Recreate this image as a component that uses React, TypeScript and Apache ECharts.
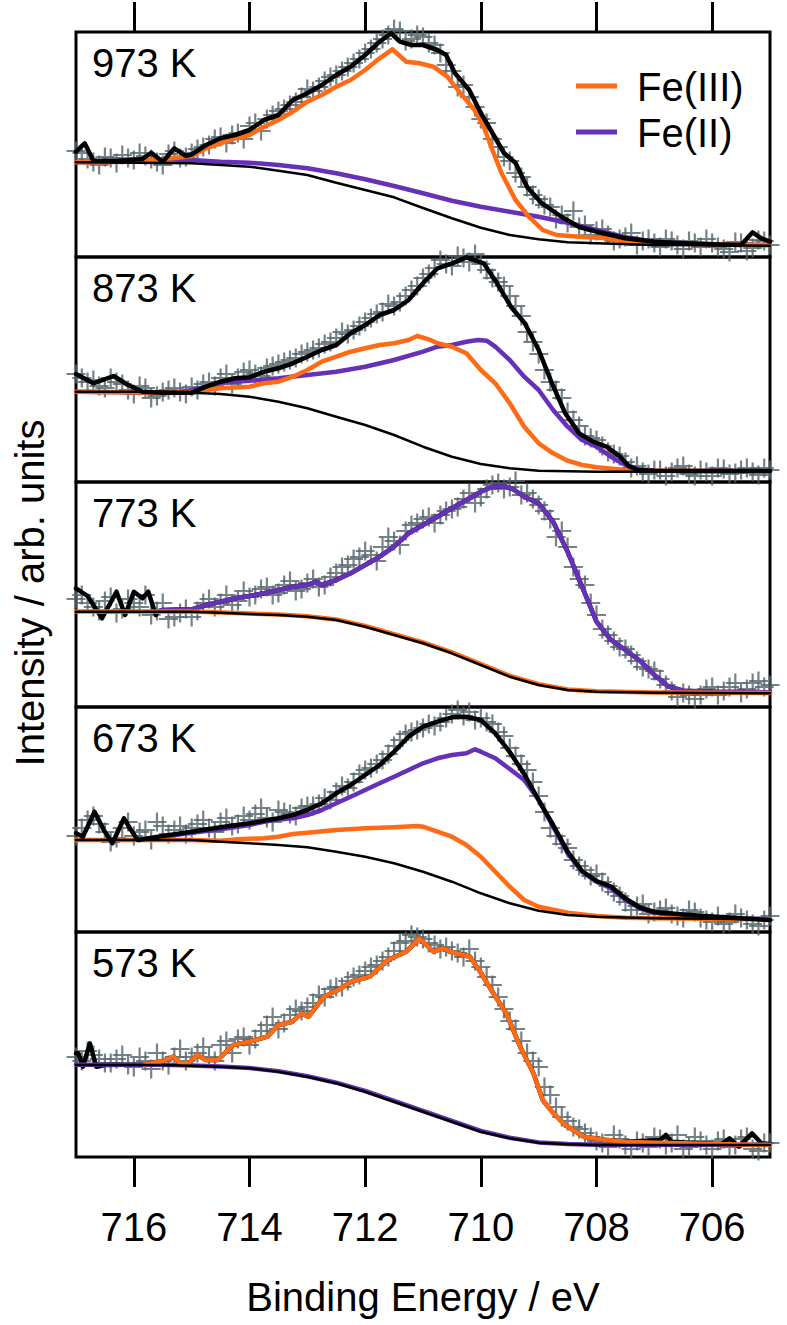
import React, { useEffect, useRef } from "react";
import * as echarts from "echarts";

// ---------------- data ----------------
const X_MIN = 705;
const X_MAX = 717;
const X_TICKS = [706, 708, 710, 712, 714, 716];
const Y_MAX = 225;
const X_TITLE = "Binding Energy / eV";
const Y_TITLE = "Intensity / arb. units";
const LEGEND_LABELS = ["Fe(III)", "Fe(II)"];

const CROSS_EV = [
  717.0, 716.8, 716.6, 716.4, 716.2, 716.0, 715.8, 715.6, 715.4, 715.2, 715.0,
  714.8, 714.6, 714.4, 714.2, 714.0, 713.8, 713.6, 713.4, 713.2, 713.0,
  712.8, 712.6, 712.4, 712.2, 712.0, 711.8, 711.6, 711.4, 711.2, 711.0,
  710.8, 710.6, 710.4, 710.2, 710.0, 709.8, 709.6, 709.4, 709.2, 709.0,
  708.8, 708.6, 708.4, 708.2, 708.0, 707.8, 707.6, 707.4, 707.2, 707.0,
  706.8, 706.6, 706.4, 706.2, 706.0, 705.8, 705.6, 705.4, 705.2, 705.0,
];
const CROSS_EV2 = [
  716.9, 716.7, 716.5, 716.3, 716.1, 715.9, 715.7, 715.5, 715.3, 715.1,
  714.9, 714.7, 714.5, 714.3, 714.1, 713.9, 713.7, 713.5, 713.3, 713.1,
  712.9, 712.7, 712.5, 712.3, 712.1, 711.9, 711.7, 711.5, 711.3, 711.1,
  710.9, 710.7, 710.5, 710.3, 710.1, 709.9, 709.7, 709.5, 709.3, 709.1,
  708.9, 708.7, 708.5, 708.3, 708.1, 707.9, 707.7, 707.5, 707.3, 707.1,
  706.9, 706.7, 706.5, 706.3, 706.1, 705.9, 705.7, 705.5, 705.3, 705.1,
];

// ---- 973 K ----
const P973_DATA = [106, 98, 92, 99, 102, 97, 101, 95, 103, 99, 104, 110, 118, 114, 124, 131, 126, 142, 148, 155, 168, 170, 180, 186, 194, 204, 214, 222, 226, 218, 220, 212, 192, 170, 160, 138, 118, 100, 84, 70, 58, 50, 42, 46, 32, 26, 22, 18, 24, 16, 14, 18, 12, 16, 10, 14, 8, 15, 6, 17, 12];
const P973_DATA2 = [104, 95, 100, 94, 99, 104, 98, 92, 106, 100, 108, 112, 120, 122, 118, 134, 138, 146, 152, 160, 166, 176, 182, 190, 198, 208, 218, 228, 216, 222, 214, 204, 186, 172, 150, 134, 110, 96, 80, 62, 52, 38, 34, 30, 22, 28, 16, 20, 12, 18, 10, 16, 8, 14, 18, 10, 5, 14, 9, 16];
const P973_BG = [[717, 94.7], [716, 94.3], [715, 93.7], [714.5, 92], [714, 90.3], [713.5, 86.3], [713, 82], [712.5, 74.3], [712, 67], [711.5, 59.7], [711, 49], [710.5, 38.7], [710, 29.3], [709.5, 22], [709, 17.7], [708.5, 14.7], [708, 13.7], [707, 12], [706, 11.7], [705, 11.3]];
const P973_TOTAL = [[717, 105.3], [716.85, 113.7], [716.7, 96.3], [716.3, 96], [715.85, 98], [715.7, 104.3], [715.5, 95.3], [715.3, 108.7], [715.1, 101], [715, 102.7], [714.75, 112], [714.5, 118.7], [714.25, 122], [714, 127], [713.75, 137], [713.5, 142], [713.25, 157], [713, 163.7], [712.75, 172], [712.5, 182], [712.25, 190.3], [712, 202], [711.75, 215.3], [711.55, 223.7], [711.4, 215.3], [711.2, 212], [711, 212], [710.75, 207], [710.6, 202], [710.45, 184], [710.2, 167], [710, 144], [709.8, 124], [709.6, 104], [709.4, 94], [709.2, 70], [708.95, 54], [708.6, 40], [708.3, 30], [708, 25.3], [707.5, 18.7], [707, 15.3], [706.5, 13.7], [706, 12.7], [705.5, 12], [705.3, 24.7], [705.15, 18.7], [705, 15.3]];
const P973_FE3 = [[717, 94.7], [716.5, 94.7], [716, 95.5], [715.5, 97.7], [715, 101], [714.75, 108.7], [714.5, 113.7], [714.25, 118.7], [714, 122], [713.75, 130.3], [713.5, 137], [713.25, 145.3], [713, 155.3], [712.75, 162], [712.5, 170.3], [712.25, 177], [712, 187], [711.75, 198.7], [711.53, 207.7], [711.29, 195.3], [711.06, 193.7], [710.82, 190.3], [710.58, 180.3], [710.35, 163.7], [710.11, 147], [709.95, 130.3], [709.8, 107], [709.64, 83.7], [709.4, 57], [709.17, 40.3], [708.93, 27], [708.69, 22], [708.3, 20.3], [707.83, 18.7], [707.5, 15.3], [707, 13.7], [706, 12.7], [705, 12]];
const P973_FE2 = [[717, 94.7], [716.3, 95.3], [715.5, 97.7], [715, 97], [714.5, 95.3], [714, 94.3], [713.5, 92], [713, 88.7], [712.5, 83.7], [712, 77.7], [711.5, 71], [711, 63.7], [710.5, 56.3], [710, 50.3], [709.5, 45.3], [709, 40.3], [708.5, 34.3], [708, 27], [707.5, 19.7], [707, 15.3], [706.5, 13.7], [706, 12.7], [705, 12]];

// ---- 873 K ----
const P873_DATA = [108, 100, 96, 104, 98, 88, 94, 86, 92, 90, 95, 98, 96, 108, 104, 112, 106, 116, 120, 124, 130, 134, 140, 150, 152, 160, 168, 178, 180, 192, 204, 214, 218, 226, 220, 218, 204, 196, 176, 150, 128, 100, 84, 62, 46, 42, 30, 26, 14, 10, 12, 6, 14, 8, 12, 6, 13, 9, 14, 7, 12];
const P873_DATA2 = [104, 102, 94, 100, 92, 96, 84, 90, 94, 88, 92, 100, 104, 98, 110, 108, 114, 118, 122, 128, 132, 138, 144, 148, 156, 164, 170, 176, 186, 196, 208, 222, 216, 224, 228, 212, 200, 186, 166, 140, 112, 92, 70, 56, 44, 36, 28, 20, 16, 8, 12, 10, 16, 6, 10, 14, 8, 12, 10, 14];
const P873_BG = [[717, 90.3], [715.5, 90.3], [715, 89.3], [714.5, 88], [714, 85.3], [713.5, 80.3], [713, 73.7], [712.5, 65.3], [712, 57], [711.5, 47], [711, 35.3], [710.5, 25.3], [710, 18], [709.5, 13.7], [709, 11.3], [708, 10.3], [705, 10.3]];
const P873_TOTAL = [[717, 108], [716.7, 98.7], [716.35, 106], [716.1, 97], [715.85, 90.3], [715.5, 89.3], [715, 89.3], [714.75, 95.3], [714.5, 100.3], [714.25, 103.7], [714, 104.7], [713.75, 110.3], [713.5, 113.7], [713.25, 118.7], [713, 125.3], [712.75, 132], [712.5, 137], [712.25, 148.7], [712, 157], [711.75, 167], [711.5, 172], [711.25, 182], [711, 198.7], [710.75, 213.7], [710.5, 218.7], [710.25, 224.7], [709.95, 218.7], [709.72, 198.7], [709.48, 175.3], [709.24, 158.7], [709, 132], [708.77, 98.7], [708.54, 68.7], [708.3, 48.7], [708.06, 40.3], [707.83, 35.3], [707.59, 25.3], [707.43, 15.3], [707.28, 12], [707, 11.3], [706, 11], [705, 11]];
const P873_FE3 = [[717, 90.3], [715.5, 89.3], [715, 90.3], [714.75, 92], [714.5, 93.7], [714, 95.3], [713.75, 98.7], [713.5, 100.3], [713.25, 105.3], [713, 112], [712.75, 120.3], [712.5, 125.3], [712.25, 130.3], [712, 133.7], [711.75, 137], [711.5, 138.7], [711.25, 142], [711.1, 146], [710.9, 142.7], [710.75, 138.7], [710.5, 135.3], [710.25, 128.7], [710, 112], [709.75, 98.7], [709.5, 78.7], [709.25, 55.3], [709, 38.7], [708.75, 28.7], [708.5, 21.3], [708.25, 17], [708, 14.7], [707.5, 12], [707, 11.3], [705, 10.7]];
const P873_FE2 = [[717, 90.3], [715.3, 89.3], [715, 92], [714.75, 95.3], [714.5, 99.3], [714, 101.3], [713.5, 103.7], [713, 107], [712.5, 110.3], [712, 115.3], [711.5, 122], [711, 130.3], [710.75, 135.3], [710.5, 137], [710.25, 140.3], [710.05, 142], [709.9, 141.3], [709.75, 135.3], [709.5, 122], [709.25, 105.3], [709, 92], [708.75, 72], [708.5, 55.3], [708.25, 42], [708, 35.3], [707.75, 25.3], [707.5, 17], [707.25, 12.7], [707, 11.3], [705, 10.7]];

// ---- 773 K ----
const P773_DATA = [108, 104, 96, 110, 98, 104, 112, 96, 88, 94, 90, 104, 100, 112, 106, 110, 118, 112, 122, 116, 124, 120, 130, 140, 148, 156, 146, 170, 162, 182, 188, 184, 196, 200, 214, 210, 222, 218, 226, 214, 202, 188, 176, 140, 122, 92, 72, 60, 52, 40, 36, 22, 10, 12, 12, 20, 16, 24, 18, 26, 22];
const P773_DATA2 = [112, 100, 106, 94, 108, 100, 92, 104, 90, 98, 96, 108, 104, 102, 116, 112, 120, 114, 126, 118, 128, 122, 134, 142, 150, 152, 160, 166, 176, 184, 190, 192, 198, 208, 204, 218, 224, 220, 212, 208, 196, 170, 160, 128, 104, 78, 66, 58, 46, 38, 28, 16, 14, 8, 18, 12, 20, 14, 24, 20];
const P773_BG = [[717, 95.3], [715, 95.3], [714.5, 94.3], [714, 93], [713.5, 92], [713, 90.3], [712.5, 87], [712, 80.3], [711.5, 72], [711, 63.7], [710.5, 53.7], [710, 42], [709.5, 30.3], [709, 22], [708.5, 17], [708, 15.3], [707, 14.3], [705, 13.7]];
const P773_FE3 = [[717, 95.6], [715, 95.6], [714.5, 94.6], [714, 93.4], [713.5, 92.4], [713, 90.8], [712.5, 87.6], [712, 81], [711.5, 72.8], [711, 64.5], [710.5, 54.6], [710, 43], [709.5, 31.2], [709, 22.8], [708.5, 17.6], [708, 15.8], [707, 14.6], [705, 14]];
const P773_FE2 = [[715.6, 95.3], [715.5, 97], [715, 97.7], [714.75, 102], [714.5, 105.3], [714.25, 108.7], [714, 111], [713.75, 113.7], [713.5, 117], [713.25, 120.3], [713, 122], [712.85, 125.3], [712.75, 122], [712.5, 127], [712.25, 133.7], [712, 142], [711.75, 150.3], [711.5, 160.3], [711.25, 173.7], [711, 182], [710.75, 190.3], [710.5, 198.7], [710.25, 207], [710, 215.3], [709.8, 220.3], [709.6, 221], [709.45, 218], [709.25, 210.3], [709, 203.7], [708.75, 185.3], [708.5, 155.3], [708.25, 120.3], [708, 85.3], [707.75, 67], [707.5, 57], [707.25, 46.3], [707, 32], [706.75, 20.3], [706.5, 16.3], [706, 15.3], [705, 14.7]];
const P773_TOTAL_LEFT = [[717, 118.7], [716.8, 111], [716.55, 88.7], [716.3, 115.3], [716.15, 92], [716, 115.3], [715.85, 108.7], [715.75, 115.3], [715.62, 92]];

// ---- 673 K ----
const P673_DATA = [96, 112, 108, 90, 104, 96, 102, 110, 98, 106, 104, 112, 100, 114, 108, 112, 124, 110, 120, 116, 126, 128, 132, 146, 150, 162, 168, 178, 192, 200, 204, 206, 214, 222, 220, 214, 208, 196, 176, 162, 136, 104, 88, 72, 62, 58, 46, 36, 22, 28, 20, 24, 16, 22, 14, 10, 8, 18, 12, 6, 16];
const P673_DATA2 = [104, 116, 100, 94, 110, 100, 92, 106, 102, 98, 108, 104, 110, 106, 116, 118, 114, 122, 118, 124, 126, 134, 140, 144, 158, 164, 172, 186, 198, 202, 208, 210, 218, 216, 212, 210, 200, 184, 168, 150, 120, 96, 84, 66, 56, 50, 40, 30, 26, 18, 22, 18, 14, 20, 12, 16, 10, 14, 8, 12];
const P673_BG = [[717, 92], [715, 92], [714.5, 90.3], [714, 88.7], [713.5, 87], [713, 84.7], [712.5, 80.3], [712, 75.3], [711.5, 68.7], [711, 60.3], [710.5, 50.3], [710, 38.7], [709.5, 28.7], [709, 21.3], [708.5, 17], [708, 15.3], [707, 13.7], [705, 12.7]];
const P673_TOTAL = [[717, 98.7], [716.88, 95.3], [716.68, 120.3], [716.52, 102], [716.37, 88.7], [716.17, 113.7], [716.05, 102], [715.93, 92], [715.5, 96], [715, 100.3], [714.5, 104.7], [714, 108.7], [713.5, 113.7], [713.25, 117], [713, 122], [712.75, 128.7], [712.5, 138.7], [712.25, 147], [712, 157], [711.75, 167], [711.5, 180.3], [711.25, 195.3], [711, 205.3], [710.75, 210.3], [710.5, 214.7], [710.25, 215.3], [710, 212], [709.75, 198.7], [709.5, 180], [709.25, 158], [709, 132], [708.75, 107], [708.5, 80.5], [708.25, 61], [708, 51], [707.75, 45.5], [707.5, 33.5], [707.25, 24.5], [707, 20], [706.5, 17.5], [706, 15.5], [705.5, 13.7], [705, 12]];
const P673_FE3 = [[717, 92], [715, 92], [714.5, 91.3], [714.2, 92.7], [713.75, 93.7], [713.5, 95.3], [713.25, 98], [713, 99.3], [712.5, 102], [712, 103.7], [711.5, 104.7], [711.1, 106], [711, 105.3], [710.75, 100.3], [710.5, 95.3], [710.25, 87], [710, 75.3], [709.75, 60.3], [709.5, 45.3], [709.25, 32], [709, 25.3], [708.5, 19.3], [708, 16], [707.5, 14.3], [707, 13.7], [705, 12.7]];
const P673_FE2 = [[715.9, 92], [715.5, 95.3], [715, 99.3], [714.5, 102.7], [714, 107], [713.75, 110.3], [713.5, 112.7], [713.25, 113.7], [713, 117], [712.75, 122], [712.5, 128.7], [712.25, 135.3], [712, 142], [711.75, 148.7], [711.5, 155.3], [711.25, 162], [711, 168.7], [710.75, 173.7], [710.5, 177], [710.25, 178.7], [710.1, 182.7], [710, 180.3], [709.75, 173.7], [709.5, 163], [709.25, 152], [709, 132], [708.75, 105.3], [708.5, 78.7], [708.25, 60.3], [708, 50.3], [707.75, 43.7], [707.5, 32], [707.25, 23.7], [707, 19.3], [706.5, 16], [706, 14.7], [705, 12.7]];

// ---- 573 K ----
const P573_DATA = [100, 106, 98, 94, 102, 90, 96, 104, 92, 108, 100, 110, 96, 116, 118, 112, 126, 140, 134, 148, 150, 162, 168, 170, 180, 186, 192, 200, 214, 222, 218, 212, 210, 204, 208, 190, 172, 148, 128, 104, 90, 62, 40, 30, 24, 16, 10, 18, 8, 14, 20, 12, 22, 10, 16, 8, 18, 12, 20, 6, 14];
const P573_DATA2 = [96, 102, 94, 98, 92, 100, 88, 96, 100, 96, 104, 100, 112, 104, 120, 118, 132, 128, 142, 146, 154, 160, 170, 176, 182, 190, 196, 206, 216, 220, 214, 208, 206, 200, 196, 180, 160, 136, 116, 96, 70, 50, 36, 28, 20, 14, 22, 12, 16, 10, 18, 14, 8, 20, 12, 16, 10, 18, 8, 14];
const P573_BG = [[717, 92], [715.5, 92], [715, 91.3], [714.5, 90.3], [714, 88.7], [713.5, 85.3], [713, 80.3], [712.5, 73.7], [712, 65.3], [711.5, 55.3], [711, 45.3], [710.5, 35.3], [710, 25.3], [709.5, 18.7], [709, 14.3], [708.5, 12.7], [708, 12], [705, 12]];
const P573_FE2 = [[717, 92.3], [715.5, 92.3], [715, 91.6], [714.5, 90.6], [714, 89], [713.5, 85.7], [713, 80.8], [712.5, 74.3], [712, 66], [711.5, 56], [711, 46], [710.5, 36], [710, 26], [709.5, 19.2], [709, 14.6], [708.5, 13], [708, 12.2], [705, 12.2]];
const P573_FE3 = [[715.8, 92.5], [715.5, 96], [715.31, 100.3], [715.2, 93.7], [715.05, 94], [714.91, 102], [714.75, 97], [714.55, 97], [714.28, 112], [714, 115.3], [713.69, 120.3], [713.5, 132], [713.26, 135.3], [713.1, 143.7], [712.98, 140.3], [712.71, 160.3], [712.47, 167], [712.24, 175.3], [711.92, 180.3], [711.61, 197], [711.29, 205.3], [711.06, 218.7], [710.82, 205.3], [710.66, 208.7], [710.43, 203.7], [710.19, 200.3], [710.03, 187], [709.8, 165.3], [709.56, 143.7], [709.32, 110.3], [709.09, 83.7], [708.93, 57], [708.77, 45.3], [708.54, 32], [708.22, 20.3], [707.83, 17], [707.5, 15.3], [707, 14.3], [706.5, 13.7], [706, 13], [705, 12]];
const P573_TOTAL_LEFT = [[717, 103.7], [716.96, 103.7], [716.88, 90.3], [716.76, 113.7], [716.65, 90.3], [716.5, 92]];
const P573_TOTAL_RIGHT = [[706.9, 17], [706.8, 22], [706.7, 15.3], [706, 13], [705.86, 12], [705.7, 18.7], [705.54, 10.3], [705.31, 23.7], [705.15, 13.7], [705, 13]];

const PANELS = [
  { label: "973 K", data: P973_DATA, data2: P973_DATA2, total: P973_TOTAL, fe3: P973_FE3, fe2: P973_FE2, bg: P973_BG, totalOnTop: true },
  { label: "873 K", data: P873_DATA, data2: P873_DATA2, total: P873_TOTAL, fe3: P873_FE3, fe2: P873_FE2, bg: P873_BG, totalOnTop: true },
  { label: "773 K", data: P773_DATA, data2: P773_DATA2, total: [...P773_TOTAL_LEFT, ...P773_FE2], fe3: P773_FE3, fe2: P773_FE2, bg: P773_BG, totalOnTop: false },
  { label: "673 K", data: P673_DATA, data2: P673_DATA2, total: P673_TOTAL, fe3: P673_FE3, fe2: P673_FE2, bg: P673_BG, totalOnTop: true },
  { label: "573 K", data: P573_DATA, data2: P573_DATA2, total: [...P573_TOTAL_LEFT, ...P573_FE3.filter((p) => p[0] > 707.05), ...P573_TOTAL_RIGHT], fe3: P573_FE3, fe2: P573_FE2, bg: P573_BG, totalOnTop: false },
];

// ---------------- styles / layout ----------------
const FONT = "Liberation Sans, Arial, Helvetica, sans-serif";
const ORANGE = "#ff6a14";
const PURPLE = "#6630b8";
const CROSS_COLOR = "#53646b";
const PLOT_LEFT = 76;
const PLOT_WIDTH = 694;
const PLOT_TOP = 32;
const PANEL_H = 225;
const CROSS_PATH = "path://M0,8.4H8.4V0H10.6V8.4H19V10.6H10.6V19H8.4V10.6H0Z";

function buildOption() {
  const n = PANELS.length;
  const grid = PANELS.map((_, i) => ({
    left: PLOT_LEFT,
    width: PLOT_WIDTH,
    top: PLOT_TOP + PANEL_H * i,
    height: PANEL_H,
    show: true,
    borderColor: "#000",
    borderWidth: 3,
    backgroundColor: "transparent",
  }));
  const xAxis = PANELS.map((_, i) => ({
    type: "value",
    gridIndex: i,
    min: X_MIN,
    max: X_MAX,
    inverse: true,
    position: i === 0 ? "top" : "bottom",
    axisLine: { show: false, onZero: false },
    splitLine: { show: false },
    axisTick: {
      show: i === 0 || i === n - 1,
      inside: false,
      length: 30,
      lineStyle: { color: "#000", width: 3 },
      customValues: X_TICKS,
    },
    axisLabel: {
      show: i === n - 1,
      customValues: X_TICKS,
      fontSize: 40,
      fontFamily: FONT,
      color: "#000",
      margin: 50,
    },
  }));
  const yAxis = PANELS.map((_, i) => ({
    type: "value",
    gridIndex: i,
    min: 0,
    max: Y_MAX,
    show: false,
  }));
  const series: any[] = [];
  PANELS.forEach((p, i) => {
    const common = { xAxisIndex: i, yAxisIndex: i, silent: true };
    series.push({
      ...common,
      type: "scatter",
      data: [
        ...CROSS_EV.map((x, k) => [x, p.data[k]]),
        ...CROSS_EV2.map((x, k) => [x, p.data2[k]]),
      ],
      symbol: CROSS_PATH,
      symbolSize: 19,
      itemStyle: { color: CROSS_COLOR },
      clip: false,
      z: 1,
    });
    const line = (data: number[][], color: string, width: number, z: number) => ({
      ...common,
      type: "line",
      data,
      showSymbol: false,
      symbol: "none",
      lineStyle: { color, width, join: "round", cap: "round" },
      z,
    });
    series.push(line(p.total, "#000", 4.5, p.totalOnTop ? 4.5 : 2));
    series.push(line(p.fe2, PURPLE, 4.5, 3));
    series.push(line(p.fe3, ORANGE, 4.5, 4));
    series.push(line(p.bg, "#000", 2.5, 5));
  });

  const textStyle = (text: string, align: string) => ({
    text,
    fontSize: 40,
    fontFamily: FONT,
    fill: "#000",
    align,
    verticalAlign: "middle",
    textAlign: align,
    textVerticalAlign: "middle",
  });

  const graphic: any[] = [];
  PANELS.forEach((p, i) => {
    graphic.push({
      type: "text",
      x: 92,
      y: PLOT_TOP + PANEL_H * i + 31,
      z: 100,
      style: textStyle(p.label, "left"),
    });
  });
  [ORANGE, PURPLE].forEach((c, k) => {
    const y = 86 + 46 * k;
    graphic.push({
      type: "line",
      z: 100,
      shape: { x1: 576, y1: y, x2: 617, y2: y },
      style: { stroke: c, lineWidth: 5 },
    });
    graphic.push({
      type: "text",
      x: 637,
      y: y + 1,
      z: 100,
      style: textStyle(LEGEND_LABELS[k], "left"),
    });
  });
  graphic.push({
    type: "text",
    x: 30,
    y: 593,
    rotation: Math.PI / 2,
    z: 100,
    style: textStyle(Y_TITLE, "center"),
  });
  graphic.push({
    type: "text",
    x: PLOT_LEFT + PLOT_WIDTH / 2,
    y: 1297,
    z: 100,
    style: textStyle(X_TITLE, "center"),
  });

  return {
    animation: false,
    backgroundColor: "#fff",
    grid,
    xAxis,
    yAxis,
    series,
    graphic,
  };
}

export default function App() {
  const ref = useRef<HTMLDivElement>(null);
  useEffect(() => {
    if (!ref.current) return;
    const chart = echarts.init(ref.current, null, { renderer: "svg" });
    chart.setOption(buildOption() as any);
    return () => chart.dispose();
  }, []);
  return (
    <div
      ref={ref}
      style={{ position: "absolute", left: 0, top: 0, width: 787, height: 1325, background: "#fff" }}
    />
  );
}
